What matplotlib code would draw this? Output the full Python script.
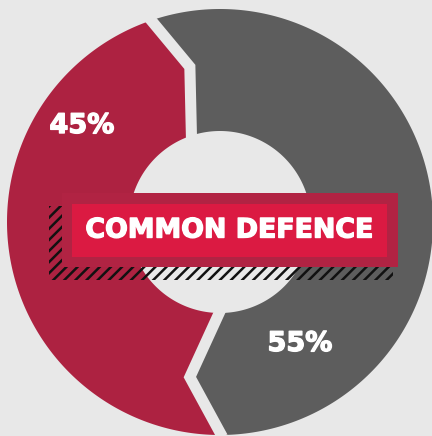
import matplotlib
matplotlib.use("Agg")
import matplotlib.pyplot as plt
import matplotlib.patheffects as pe
from matplotlib.patches import Rectangle, Polygon
import numpy as np

# shares of the donut
labels = ["45%", "55%"]
shares = [45, 55]
colors = ["#ad2241", "#5d5d5d"]
title = "COMMON DEFENCE"

bg = "#e8e8e8"
W, H = 432, 436

plt.rcParams["hatch.linewidth"] = 1.8
plt.rcParams["hatch.color"] = "#111111"
font = dict(family="DejaVu Sans", fontweight="bold", color="white",
            path_effects=[pe.withStroke(linewidth=1.0, foreground="white")])

fig = plt.figure(figsize=(W / 100, H / 100), dpi=100, facecolor=bg)
ax = fig.add_axes([0, 0, 1, 1])
ax.set_facecolor(bg)

cx, cy = 220, H - 222
r_out, r_in, r_mid = 213, 91, 158
start = 110


def polar(r, a):
    a = np.deg2rad(a)
    return cx + r * np.cos(a), cy + r * np.sin(a)


def zigzag(theta, kink):
    # outer -> middle -> inner point of a slice boundary
    return [polar(r_out, theta), polar(r_mid, theta + kink), polar(r_in, theta)]


# slices as polygons with a bent edge at each boundary
bounds = start + 360 * np.concatenate([[0], np.cumsum(shares)]) / sum(shares)
kinks = [-9, -13, -9]
for i, c in enumerate(colors):
    t1, t2 = bounds[i], bounds[i + 1]
    arc = np.linspace(t1, t2, 200)
    pts = [polar(r_out, t) for t in arc]
    pts += zigzag(t2, kinks[i + 1])[1:]
    pts += [polar(r_in, t) for t in arc[::-1]]
    pts += zigzag(t1, kinks[i])[::-1][:-1]
    ax.add_patch(Polygon(pts, closed=True, facecolor=c, lw=0, zorder=2))

    mid = zigzag(t1, kinks[i])[1]
    xs, ys = zip(*[polar(r_out + 12, t1), mid, polar(r_in - 8, t1)])
    ax.plot(xs, ys, color=bg, lw=8.0, solid_joinstyle="miter",
            solid_capstyle="butt", zorder=3)

# percentage labels
ax.text(82, H - 126, labels[0], fontsize=19.5, ha="center", va="center",
        zorder=5, **font)
ax.text(300, H - 344, labels[1], fontsize=19.5, ha="center", va="center",
        zorder=5, **font)

# title box with hatched shadow
ax.add_patch(Rectangle((49, H - 280), 344, 74, facecolor="none",
                       edgecolor="#111111", hatch="///", lw=0, zorder=6))
ax.add_patch(Rectangle((62, H - 267), 336, 74, facecolor="#b12343",
                       lw=0, zorder=7))
ax.add_patch(Rectangle((72, H - 257), 315, 53, facecolor="#db1a42",
                       lw=0, zorder=8))
ax.text(229.5, H - 230.5, title, fontsize=19.3, ha="center", va="center",
        zorder=9, **font)

ax.set_xlim(0, W)
ax.set_ylim(0, H)
ax.axis("off")

fig.savefig("out.png", dpi=100, facecolor=bg)
